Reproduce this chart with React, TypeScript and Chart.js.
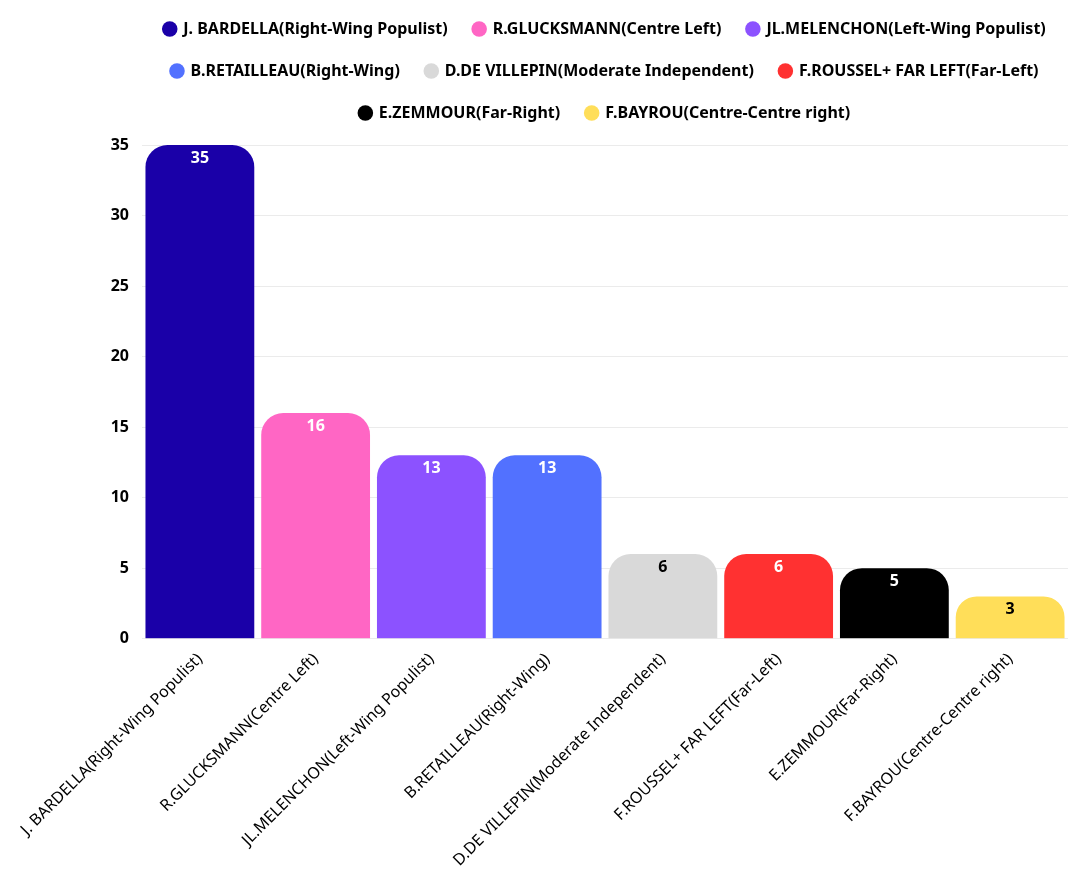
import { useEffect, useRef } from "react";
import { Chart, registerables } from "chart.js";

Chart.register(...registerables);

const candidates = [
  "J. BARDELLA(Right-Wing Populist)",
  "R.GLUCKSMANN(Centre Left)",
  "JL.MELENCHON(Left-Wing Populist)",
  "B.RETAILLEAU(Right-Wing)",
  "D.DE VILLEPIN(Moderate Independent)",
  "F.ROUSSEL+ FAR LEFT(Far-Left)",
  "E.ZEMMOUR(Far-Right)",
  "F.BAYROU(Centre-Centre right)",
];
const votes = [35, 16, 13, 13, 6, 6, 5, 3];
const barColors = [
  "#1a00a8",
  "#ff66c4",
  "#8c52ff",
  "#5271ff",
  "#d9d9d9",
  "#ff3131",
  "#000000",
  "#ffde59",
];
const labelColors = ["#fff", "#fff", "#fff", "#fff", "#000", "#fff", "#fff", "#000"];

const FONT = "'Noto Sans', sans-serif";

// draws the value inside the top of each bar
const valueLabels = {
  id: "valueLabels",
  afterDatasetsDraw(chart: Chart) {
    const { ctx } = chart;
    const meta = chart.getDatasetMeta(0);
    ctx.save();
    ctx.font = `bold 16px ${FONT}`;
    ctx.textAlign = "center";
    ctx.textBaseline = "middle";
    meta.data.forEach((bar: any, i: number) => {
      ctx.fillStyle = labelColors[i];
      ctx.fillText(String(votes[i]), bar.x, bar.y + 13);
    });
    ctx.restore();
  },
};

// extra space under the legend, and centre it over the plot area
const legendTweak = {
  id: "legendTweak",
  beforeInit(chart: any) {
    const legend = chart.legend;
    const origFit = legend.fit;
    legend.fit = function () {
      origFit.bind(legend)();
      this.height += 14;
    };
    const origDraw = legend.draw;
    legend.draw = function () {
      const area = chart.chartArea;
      const shift = area ? (area.left + area.right) / 2 - (legend.left + legend.right) / 2 : 0;
      chart.ctx.save();
      chart.ctx.translate(shift, 0);
      origDraw.bind(legend)();
      chart.ctx.restore();
    };
  },
};

export default function App() {
  const chartRef = useRef<HTMLCanvasElement>(null);
  const chartInstance = useRef<Chart | null>(null);

  useEffect(() => {
    if (!chartRef.current) return;
    if (chartInstance.current) chartInstance.current.destroy();
    const ctx = chartRef.current.getContext("2d");
    if (!ctx) return;

    chartInstance.current = new Chart(ctx, {
      type: "bar",
      data: {
        labels: candidates,
        datasets: [
          {
            label: "Votes",
            data: votes,
            backgroundColor: barColors,
            borderRadius: { topLeft: 22, topRight: 22, bottomLeft: 0, bottomRight: 0 },
            borderSkipped: false,
            barPercentage: 0.94,
            categoryPercentage: 1,
          },
        ],
      },
      options: {
        animation: false,
        responsive: true,
        maintainAspectRatio: false,
        layout: { padding: { left: 15, right: 12, top: -5, bottom: 8 } },
        scales: {
          y: {
            beginAtZero: true,
            max: 35,
            afterFit: (scale: any) => {
              scale.width = 127;
            },
            ticks: {
              stepSize: 5,
              color: "#000",
              padding: 13,
              font: { family: FONT, size: 16, weight: "bold" },
            },
            grid: { color: "#ebebeb", drawTicks: false },
            border: { display: false },
          },
          x: {
            grid: { display: false },
            border: { display: false },
            ticks: {
              color: "#000",
              minRotation: 45,
              maxRotation: 45,
              autoSkip: false,
              font: { family: FONT, size: 16 },
            },
          },
        },
        plugins: {
          tooltip: { enabled: false },
          legend: {
            position: "top",
            labels: {
              usePointStyle: true,
              pointStyle: "circle",
              boxWidth: 11,
              boxHeight: 11,
              padding: 26,
              color: "#000",
              font: { family: FONT, size: 16, weight: "bold" },
              generateLabels: () =>
                candidates.map((name, i) => ({
                  text: name,
                  fillStyle: barColors[i],
                  strokeStyle: barColors[i],
                  lineWidth: 0,
                  pointStyle: "circle",
                  hidden: false,
                  index: i,
                  datasetIndex: 0,
                })),
            },
          },
        },
      },
      plugins: [valueLabels, legendTweak],
    });

    return () => {
      if (chartInstance.current) {
        chartInstance.current.destroy();
        chartInstance.current = null;
      }
    };
  }, []);

  return (
    <div style={{ position: "absolute", left: 0, top: 0, width: 1080, height: 881, background: "#fff" }}>
      <canvas ref={chartRef} />
    </div>
  );
}
